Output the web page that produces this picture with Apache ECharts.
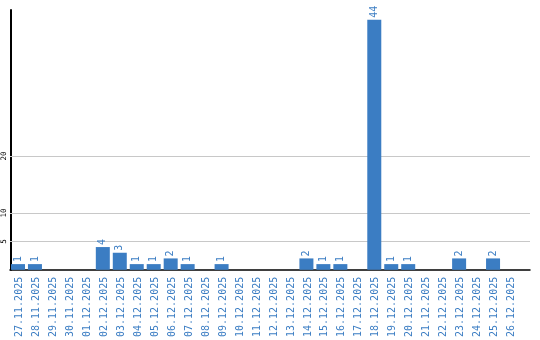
<!DOCTYPE html>
<html><head><meta charset="utf-8">
<script src="https://cdn.jsdelivr.net/npm/echarts@6/dist/echarts.min.js"></script>
<style>html,body{margin:0;padding:0;background:#fff}#c{width:540px;height:340px}</style>
</head><body><div id="c"></div>
<script>
const categories = ['27.11.2025','28.11.2025','29.11.2025','30.11.2025','01.12.2025','02.12.2025','03.12.2025','04.12.2025','05.12.2025','06.12.2025','07.12.2025','08.12.2025','09.12.2025','10.12.2025','11.12.2025','12.12.2025','13.12.2025','14.12.2025','15.12.2025','16.12.2025','17.12.2025','18.12.2025','19.12.2025','20.12.2025','21.12.2025','22.12.2025','23.12.2025','24.12.2025','25.12.2025','26.12.2025'];
const values = [1,1,0,0,0,4,3,1,1,2,1,0,1,0,0,0,0,2,1,1,0,44,1,1,0,0,2,0,2,0];
const yTickLabels = [5,10,20];
const blue = '#3b7dc3';
const yMax = 45.7;
const chart = echarts.init(document.getElementById('c'));
chart.setOption({
  animation:false,
  grid:[
    {left:10,right:20,top:10,bottom:70,containLabel:false},
    {left:10,right:10,top:10,bottom:70,containLabel:false}
  ],
  xAxis:[
    {type:'category',gridIndex:0,data:categories,boundaryGap:true,
     axisLine:{show:false},axisTick:{show:false},
     axisLabel:{rotate:90,interval:0,color:blue,fontFamily:'DejaVu Sans Mono',fontSize:10,margin:7}},
    {type:'value',gridIndex:1,min:0,max:1,
     axisLine:{show:true,onZero:false,lineStyle:{color:'#000',width:1.5}},axisTick:{show:false},axisLabel:{show:false},splitLine:{show:false}}
  ],
  yAxis:[
    {type:'value',gridIndex:0,min:0,max:yMax,interval:5,
     axisLine:{show:true,lineStyle:{color:'#000',width:2}},axisTick:{show:false},splitLine:{show:false},
     axisLabel:{rotate:90,color:'#000',fontFamily:'DejaVu Sans Mono',fontSize:7.5,margin:3,showMaxLabel:false,
       formatter:v=>yTickLabels.indexOf(v)>=0?String(v):''}},
    {type:'value',gridIndex:1,min:0,max:yMax,
     axisLine:{show:false},axisTick:{show:false},axisLabel:{show:false},splitLine:{show:false}}
  ],
  series:[
    {type:'bar',xAxisIndex:0,yAxisIndex:0,data:values,barWidth:14,barGap:0,z:3,itemStyle:{color:blue},
     label:{show:true,position:'top',rotate:90,align:'left',verticalAlign:'middle',distance:2,color:blue,fontFamily:'DejaVu Sans Mono',fontSize:10,
       formatter:p=>p.value>0?String(p.value):''}},
    {type:'bar',xAxisIndex:0,yAxisIndex:0,data:values.map(()=>0),barWidth:3,z:1,itemStyle:{color:'transparent'}},
    {type:'line',xAxisIndex:1,yAxisIndex:1,data:[[0,0]],showSymbol:false,symbol:'none',lineStyle:{opacity:0},z:1,
     markLine:{silent:true,z:1,symbol:'none',label:{show:false},lineStyle:{color:'#c8c8c8',width:1,type:'solid'},
       data:yTickLabels.map(v=>({yAxis:v}))}}
  ]
});
</script></body></html>
